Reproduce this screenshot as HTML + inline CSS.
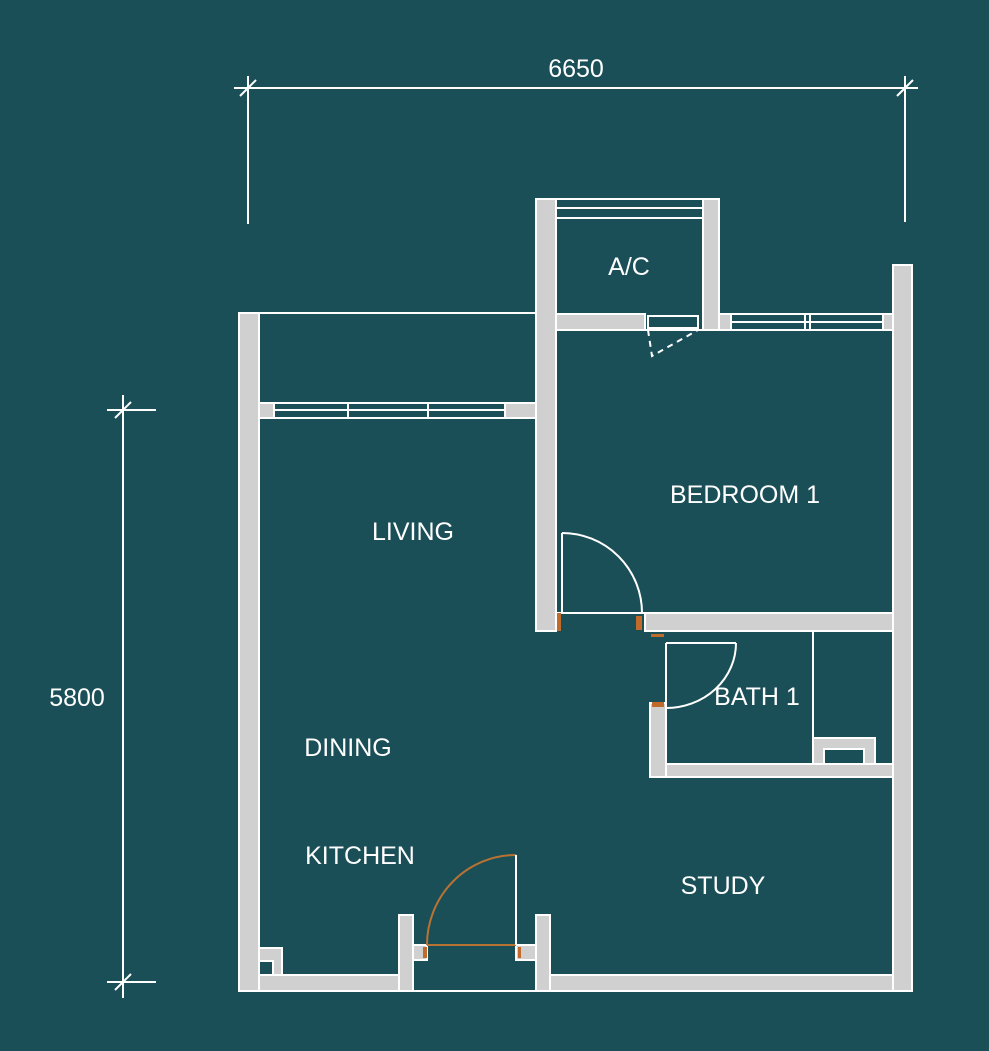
<!DOCTYPE html>
<html><head><style>html,body{margin:0;padding:0;background:#1b4f58;}svg{display:block}</style></head>
<body>
<svg width="989" height="1051" viewBox="0 0 989 1051" xmlns="http://www.w3.org/2000/svg" font-family="Liberation Sans, sans-serif">
<rect width="989" height="1051" fill="#1b4f58"/>
<g stroke="#fff" stroke-width="2" fill="none">
<line x1="234" y1="88" x2="918" y2="88"/>
<line x1="248" y1="76" x2="248" y2="224"/>
<line x1="905" y1="76" x2="905" y2="222"/>
<line x1="240" y1="96" x2="256" y2="80"/>
<line x1="897" y1="96" x2="913" y2="80"/>
<line x1="123" y1="395" x2="123" y2="998"/>
<line x1="107" y1="410" x2="156" y2="410"/>
<line x1="107" y1="982" x2="156" y2="982"/>
<line x1="115" y1="418" x2="131" y2="402"/>
<line x1="115" y1="990" x2="131" y2="974"/>
</g>
<g fill="#fff" font-size="25">
<text x="576" y="77" text-anchor="middle">6650</text>
<text x="77" y="706" text-anchor="middle">5800</text>
</g>
<g fill="#d0d0d0" stroke="#fff" stroke-width="2">
<rect x="239" y="313" width="20" height="678"/>
<rect x="536" y="199" width="20" height="432"/>
<rect x="703" y="199" width="16" height="131"/>
<rect x="893" y="265" width="19" height="726"/>
<rect x="556" y="314" width="89" height="16"/>
<rect x="645" y="613" width="248" height="18"/>
<rect x="650" y="703" width="16" height="74"/>
<rect x="666" y="764" width="227" height="13"/>
<rect x="259" y="975" width="154" height="16"/>
<rect x="399" y="915" width="14" height="76"/>
<rect x="536" y="915" width="14" height="76"/>
<rect x="550" y="975" width="343" height="16"/>
<rect x="259" y="948" width="23" height="27"/>
<rect x="813" y="738" width="62" height="26"/>
<rect x="259" y="403" width="15" height="15"/>
<rect x="505" y="403" width="31" height="15"/>
<rect x="719" y="314" width="12" height="16"/>
<rect x="883" y="314" width="10" height="16"/>
<rect x="413" y="945" width="14" height="15"/>
<rect x="516" y="945" width="20" height="15"/>
</g>
<g fill="#1b4f58" stroke="#fff" stroke-width="2">
<rect x="259" y="961" width="14" height="14"/>
<rect x="824" y="749" width="40" height="15"/>
</g>
<g stroke="#fff" stroke-width="2" fill="none">
<line x1="259" y1="313" x2="536" y2="313"/>
<line x1="274" y1="403" x2="505" y2="403"/>
<line x1="274" y1="410" x2="505" y2="410"/>
<line x1="274" y1="418" x2="505" y2="418"/>
<line x1="348" y1="403" x2="348" y2="418"/>
<line x1="428" y1="403" x2="428" y2="418"/>
<line x1="556" y1="199" x2="703" y2="199"/>
<line x1="556" y1="208" x2="703" y2="208"/>
<line x1="556" y1="218" x2="703" y2="218"/>
<line x1="731" y1="314" x2="883" y2="314"/>
<line x1="731" y1="322" x2="883" y2="322"/>
<line x1="731" y1="330" x2="883" y2="330"/>
<line x1="805" y1="314" x2="805" y2="330"/>
<line x1="810" y1="314" x2="810" y2="330"/>
<line x1="645" y1="330" x2="703" y2="330"/>
<rect x="648" y="316" width="50" height="12"/>
<path d="M648 330 L652 356 L698 330" stroke-dasharray="6 5"/>
<line x1="562" y1="533" x2="562" y2="613"/>
<path d="M562 533 A80 80 0 0 1 642 613"/>
<line x1="556" y1="613" x2="645" y2="613"/>
<line x1="666" y1="643" x2="736" y2="643"/>
<line x1="666" y1="643" x2="666" y2="703"/>
<path d="M736 643 A70 65 0 0 1 666 708"/>
<line x1="813" y1="631" x2="813" y2="738"/>
<line x1="875" y1="738" x2="875" y2="764"/>
<line x1="413" y1="991" x2="536" y2="991"/>
</g>
<g stroke="#b87333" stroke-width="2" fill="none">
<path d="M516 855 A89 90 0 0 0 427 945"/>
<line x1="427" y1="945" x2="516" y2="945"/>
</g>
<line x1="516" y1="855" x2="516" y2="945" stroke="#fff" stroke-width="2"/>
<g fill="#c06a2c">
<rect x="557" y="613" width="4" height="18"/>
<rect x="636" y="616" width="6" height="14"/>
<rect x="651" y="634" width="13" height="3"/>
<rect x="652" y="702" width="12" height="5"/>
<rect x="423" y="947" width="4" height="11"/>
<rect x="518" y="947" width="3" height="11"/>
</g>
<g fill="#fff" font-size="25">
<text x="629" y="275" text-anchor="middle">A/C</text>
<text x="745" y="503" text-anchor="middle">BEDROOM 1</text>
<text x="413" y="540" text-anchor="middle">LIVING</text>
<text x="757" y="705" text-anchor="middle">BATH 1</text>
<text x="348" y="756" text-anchor="middle">DINING</text>
<text x="360" y="864" text-anchor="middle">KITCHEN</text>
<text x="723" y="894" text-anchor="middle">STUDY</text>
</g>
</svg>
</body></html>
